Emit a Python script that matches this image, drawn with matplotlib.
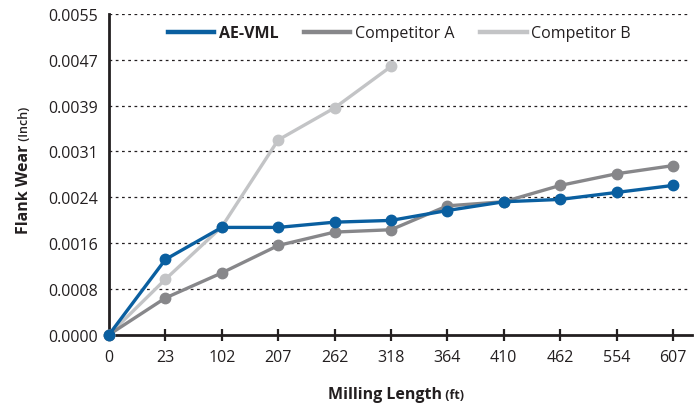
import matplotlib
matplotlib.use("Agg")
import matplotlib.pyplot as plt
import numpy as np
from matplotlib.lines import Line2D

plt.rcParams['font.family'] = ['Open Sans', 'DejaVu Sans']

lengths = ["0", "23", "102", "207", "262", "318", "364", "410", "462", "554", "607"]
ae_vml = [0.0, 0.00129, 0.00184, 0.00184, 0.00193, 0.00196, 0.00213, 0.00228, 0.00232, 0.00244, 0.00256]
comp_a = [0.0, 0.00063, 0.00106, 0.00153, 0.00176, 0.00180, 0.00221, 0.00228, 0.00256, 0.00276, 0.00290]
comp_b = [0.0, 0.00095, 0.00185, 0.00334, 0.00389, 0.00460]
y_ticks = list(np.linspace(0, 0.0055, 8))
y_tick_labels = ["0.0000", "0.0008", "0.0016", "0.0024", "0.0031", "0.0039", "0.0047", "0.0055"]

c_ae = "#0a5fa0"
c_a = "#87878a"
c_b = "#c3c4c6"
dark = "#231f20"

fig = plt.figure(figsize=(6.94, 4.10), dpi=100)
ax = fig.add_axes([109/694, 1-335.7/410, (692-109)/694, (335.7-15)/410])

x = np.arange(len(lengths))
lw = 2.4
ms = 7.5
ax.plot(x[:len(comp_b)], comp_b, color=c_b, lw=lw, marker='o', ms=ms, clip_on=False, zorder=3)
ax.plot(x, comp_a, color=c_a, lw=lw, marker='o', ms=ms, clip_on=False, zorder=4)
ax.plot(x, ae_vml, color=c_ae, lw=lw, marker='o', ms=ms, clip_on=False, zorder=5)

ax.set_xlim(0, (692-109)/56.4)
ax.set_ylim(0, 0.0055)
ax.set_xticks(x)
ax.set_xticklabels(lengths)
ax.set_yticks(y_ticks)
ax.set_yticklabels(y_tick_labels)

for yv in y_ticks[1:]:
    ax.axhline(yv, color=dark, lw=0.9, ls=(0, (2.2, 2.8)), zorder=1, xmax=0.995)

for s in ['top', 'right']:
    ax.spines[s].set_visible(False)
for s in ['left', 'bottom']:
    ax.spines[s].set_color(dark)
    ax.spines[s].set_linewidth(2.0)

ax.tick_params(axis='x', direction='inout', length=9, width=1.6, color=dark,
               labelsize=11.5, pad=6, labelcolor=dark)
ax.tick_params(axis='y', length=0, labelsize=11.5, pad=8, labelcolor=dark)

handles = [Line2D([], [], color=c_ae, lw=3.2),
           Line2D([], [], color=c_a, lw=3.2),
           Line2D([], [], color=c_b, lw=3.2)]
leg = ax.legend(handles, ["AE-VML", "Competitor A", "Competitor B"], ncol=3,
                loc='upper center', bbox_to_anchor=(0.498, 1.0), frameon=False,
                fontsize=11.5, handlelength=2.9, handletextpad=0.3, columnspacing=1.6,
                borderaxespad=0.3)
for t in leg.get_texts():
    t.set_color(dark)
leg.get_texts()[0].set_fontweight('bold')

# x label
t1 = fig.text(328/694, 1-399/410, "Milling Length", fontsize=11.5, fontweight='bold',
              color=dark, ha='left', va='baseline')
fig.canvas.draw()
ax.annotate(" (ft)", xy=(1, 1-399/410), xycoords=(t1, 'figure fraction'),
            fontsize=9, fontweight='bold', color=dark, ha='left', va='baseline')

# y label
t2 = fig.text(28/694, 1-234/410, "Flank Wear", fontsize=11.5, fontweight='bold',
              color=dark, ha='left', va='baseline', rotation=90, rotation_mode='anchor')
fig.canvas.draw()
ax.annotate(" (Inch)", xy=(28/694, 1), xycoords=('figure fraction', t2),
            fontsize=9, fontweight='semibold', color=dark, ha='left', va='baseline',
            rotation=90, rotation_mode='anchor')

fig.savefig("out.png", dpi=100)
